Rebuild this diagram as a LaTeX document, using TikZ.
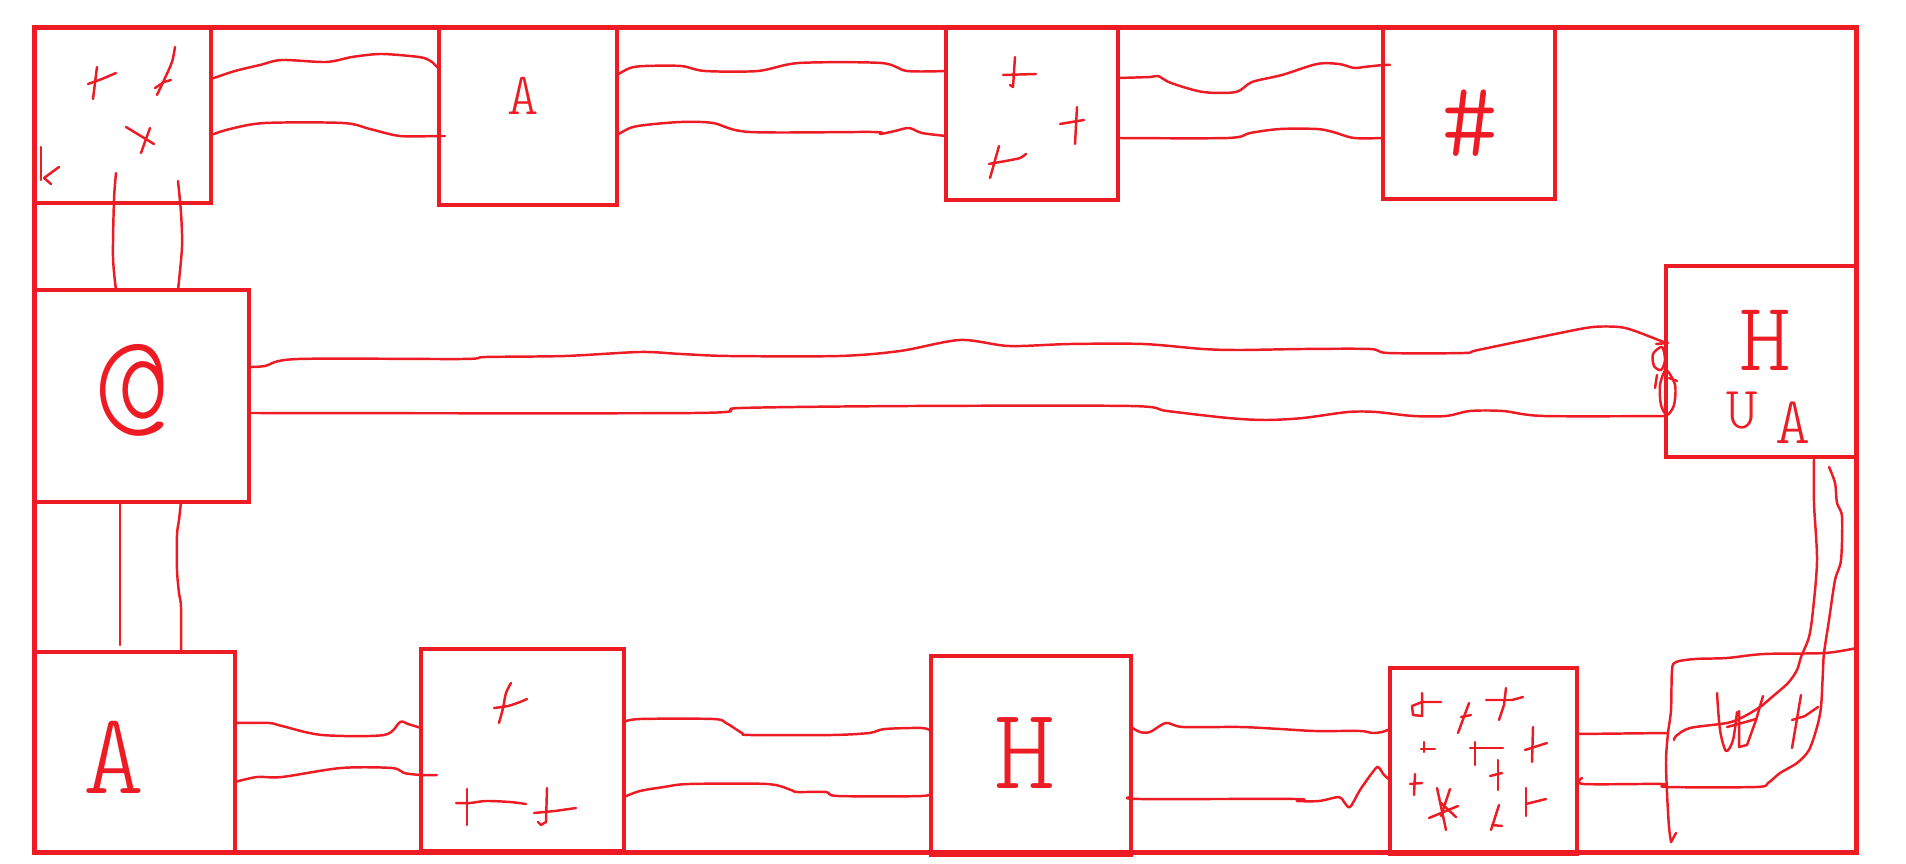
\documentclass[tikz,border=0pt]{standalone}
\usepackage{fontspec}
\newfontfamily\handfont{lmmonolt10-regular.otf}
\definecolor{pred}{RGB}{237,28,36}
\tikzset{
  boxn/.style={draw=pred,line width=1.3pt,inner sep=0pt,outer sep=0pt,line join=miter},
  wire/.style={draw=pred,line width=0.7pt,line cap=round,line join=round},
  glyph/.style={draw=pred,line width=0.7pt,line cap=round,line join=round},
  lbl/.style={text=pred,inner sep=0pt}
}
\begin{document}
\begin{tikzpicture}[x=0.01cm,y=-0.01cm]
\useasboundingbox (0,0) rectangle (1906,864);
% frame and boxes
\node[boxn,minimum width=18.21cm,minimum height=8.24cm] (frame) at (945.5,440) {};
\node[boxn,minimum width=1.76cm,minimum height=1.75cm] (b1) at (123,115.5) {};
\node[boxn,minimum width=1.78cm,minimum height=1.78cm] (b2) at (528,116) {};
\node[boxn,minimum width=1.72cm,minimum height=1.72cm] (b3) at (1032,114) {};
\node[boxn,minimum width=1.72cm,minimum height=1.71cm] (b4) at (1469,113.5) {};
\node[boxn,minimum width=2.14cm,minimum height=2.12cm] (g) at (142,396) {};
\node[boxn,minimum width=1.90cm,minimum height=1.91cm] (h) at (1761,361.5) {};
\node[boxn,minimum width=2.00cm,minimum height=2.00cm] (a2) at (135,752) {};
\node[boxn,minimum width=2.03cm,minimum height=2.02cm] (f) at (522.5,750) {};
\node[boxn,minimum width=2.00cm,minimum height=1.99cm] (h2) at (1031,755.5) {};
\node[boxn,minimum width=1.87cm,minimum height=1.86cm] (m) at (1483.5,761) {};

% labels
\node[lbl,font=\handfont\fontsize{17}{17}\selectfont] (tA1) at (523,96) {A};
\node[lbl,font=\handfont\fontsize{31}{31}\selectfont] (tHash) at (1470,123) {\#};
\node[lbl,font=\handfont\fontsize{42}{42}\selectfont] (tAt) at (132,390) {@};
\node[lbl,font=\handfont\fontsize{33}{33}\selectfont] (tA2) at (114,757) {A};
\node[lbl,font=\handfont\fontsize{28}{28}\selectfont] (tH) at (1765,340) {H};
\node[lbl,font=\handfont\fontsize{17}{17}\selectfont] (tU) at (1742,411) {U};
\node[lbl,font=\handfont\fontsize{19}{19}\selectfont] (tA3) at (1793,423) {A};
\node[lbl,font=\handfont\fontsize{33}{33}\selectfont] (tH2) at (1025,753) {H};

% top row connectors
\draw[wire] plot[smooth] coordinates {(b1.east |- 0,79) (235,71) (260,65) (282,60) (326,62) (352,57) (380,54) (410,56) (424,58) (432,62) (b2.west |- 0,69)};
\draw[wire] plot[smooth] coordinates {(b1.east |- 0,135) (230,129) (265,123) (343,123) (370,129) (400,136) (b2.west |- 0,136) (445,136)};
\draw[wire] plot[smooth] coordinates {(b2.east |- 0,75) (630,68) (645,66) (681,66) (705,71) (758,71) (799,63) (881,63) (907,71) (b3.west |- 0,71)};
\draw[wire] plot[smooth] coordinates {(b2.east |- 0,135) (630,128) (645,125) (681,122) (713,123) (750,132) (873,132) (880,134) (895,131) (909,128) (922,133) (b3.west |- 0,136)};
\draw[wire] plot[smooth] coordinates {(b3.east |- 0,78) (1150,77) (1158,76) (1171,83) (1203,92) (1236,92) (1252,82) (1282,75) (1317,64) (1339,64) (1354,68) (1364,67) (b4.west |- 0,65) (1390,65)};
\draw[wire] plot[smooth] coordinates {(b3.east |- 0,138) (1228,138) (1250,133) (1280,129) (1317,129) (1333,132) (1354,138) (b4.west |- 0,138)};

% left column connectors
\draw[wire] plot[smooth] coordinates {(116,173) (114,200) (113,257) (g.north -| 116,0)};
\draw[wire] plot[smooth] coordinates {(178,181) (181,213) (182,247) (g.north -| 178,0)};
\draw[wire] (g.south -| 120,0) -- (120,645);
\draw[wire] plot[smooth] coordinates {(g.south -| 181,0) (179,520) (177,535) (177,570) (179,593) (181,607) (a2.north -| 181,0)};

% long connectors G -> H
\draw[wire] plot[smooth] coordinates {(g.east |- 0,367) (265,366) (298,359) (462,359) (486,357) (565,356) (640,352) (681,354) (729,356) (839,356) (900,351) (960,340) (1009,346) (1070,344) (1143,344) (1203,349) (1240,350) (1303,349) (1370,349) (1388,353) (1464,353) (1478,350) (1560,333) (1593,327) (1619,327) (1635,331) (h.west |- 0,343)};
\draw[wire] plot[smooth] coordinates {(g.east |- 0,413) (693,413) (741,408) (912,406) (1130,406) (1167,411) (1228,418) (1266,420) (1303,418) (1348,412) (1376,412) (1413,416) (1446,416) (1470,411) (1503,411) (1544,416) (h.west |- 0,416)};
% scribble at H
\draw[glyph] (1656,344) -- (1668,343);
\draw[glyph] plot[smooth cycle] coordinates {(1662,347) (1653,354) (1654,366) (1661,370) (1665,360)};
\draw[glyph] plot[smooth cycle] coordinates {(1666,370) (1660,385) (1661,405) (1667,415) (1674,405) (1675,385)};
\draw[glyph] (1657,375) -- (1655,388);
\draw[glyph] (1669,378) -- (1677,381);

% bottom row connectors
\draw[wire] plot[smooth] coordinates {(a2.east |- 0,723) (269,723) (282,726) (322,735) (384,735) (400,722) (408,724) (f.west |- 0,728)};
\draw[wire] plot[smooth] coordinates {(a2.east |- 0,782) (257,777) (282,777) (341,768) (392,768) (404,773) (f.west |- 0,775) (437,775)};
\draw[wire] plot[smooth] coordinates {(f.east |- 0,722) (640,719) (713,719) (726,723) (742,733) (750,735) (832,735) (869,733) (885,729) (922,728) (h2.west |- 0,731)};
\draw[wire] plot[smooth] coordinates {(f.east |- 0,797) (640,791) (664,787) (689,784) (767,784) (791,790) (797,792) (826,792) (838,796) (922,796) (h2.west |- 0,792)};
\draw[wire] plot[smooth] coordinates {(h2.east |- 0,727) (1140,732) (1150,732) (1166,723) (1183,727) (1240,727) (1280,729) (1315,731) (1360,731) (1372,733) (1382,732) (m.west |- 0,729)};
\draw[wire] plot[smooth] coordinates {(h2.east |- 0,797) (1140,799) (1295,799) (1297,801) (1319,801) (1339,797) (1344,802) (1350,807) (1360,790) (1372,773) (1378,767) (1384,775) (m.west |- 0,780)};

% right side connectors
\draw[wire] (m.east |- 0,734) -- (1668,733);
\draw[wire] plot[smooth] coordinates {(h.south -| 1814,0) (1814,503) (1817,560) (1813,610) (1809,637) (1801,657) (1797,670) (1788,683) (1772,697) (1760,707) (1743,717) (1727,723) (1690,728) (1676,736) (1674,740)};
\draw[wire] plot[smooth] coordinates {(1829,467) (1835,483) (1837,503) (1842,517) (1841,560) (1835,580) (1829,620) (1824,653) (1823,670) (1821,707) (1817,727) (1809,750) (1797,763) (1780,773) (1768,783) (1756,787) (1666,787) (1662,784) (1584,784) (1582,778)};
\draw[wire] plot[smooth] coordinates {(frame.east |- 0,648) (1825,653) (1764,654) (1727,658) (1695,659) (1676,662) (1672,670) (1671,710) (1668,733) (1666,760) (1667,793) (1669,827) (1671,842)};
\draw[glyph] (1671,842) -- (1676,833);

% hand marks in box b1
\draw[glyph] (97,67) -- (95,83) -- (93,99);
\draw[glyph] (88,84) -- (102,79) -- (116,73);
\draw[glyph] plot[smooth] coordinates {(175,47) (172,62) (165,78) (157,95)};
\draw[glyph] (155,88) -- (164,82) -- (171,80);
\draw[glyph] (126,127) -- (154,144);
\draw[glyph] (150,128) -- (141,153);
\draw[glyph] (41,147) -- (41,180);
\draw[glyph] (59,167) -- (44,178) -- (51,184);

% hand marks in box b3
\draw[glyph] (1003,75) -- (1036,74);
\draw[glyph] (1015,57) -- (1013,87) -- (1010,85);
\draw[glyph] (1077,107) -- (1075,144);
\draw[glyph] (1060,124) -- (1084,120);
\draw[glyph] (999,146) -- (990,178);
\draw[glyph] plot[smooth] coordinates {(989,164) (1000,162) (1011,160) (1020,158) (1026,154)};

% hand marks in box f
\draw[glyph] plot[smooth] coordinates {(511,683) (506,693) (503,708) (499,723)};
\draw[glyph] plot[smooth] coordinates {(494,708) (508,706) (520,702) (527,699)};
\draw[glyph] (467,789) -- (467,825);
\draw[glyph] plot[smooth] coordinates {(456,803) (470,803) (486,801) (510,802) (526,804)};
\draw[glyph] (547,788) -- (546,822) -- (541,825) -- (538,822);
\draw[glyph] (534,813) -- (555,811) -- (576,808);

% hand marks in box m
\draw[glyph] (1422,693) -- (1422,716) -- (1413,715) -- (1412,706) -- (1422,702) -- (1441,702);
\draw[glyph] (1469,703) -- (1458,733);
\draw[glyph] (1461,717) -- (1471,715);
\draw[glyph] (1486,700) -- (1512,700) -- (1523,697);
\draw[glyph] (1506,688) -- (1504,705) -- (1499,720);
\draw[glyph] (1421,749) -- (1435,749);
\draw[glyph] (1424,742) -- (1424,752);
\draw[glyph] (1470,748) -- (1503,748);
\draw[glyph] (1475,742) -- (1475,765);
\draw[glyph] (1533,727) -- (1532,762);
\draw[glyph] (1525,750) -- (1547,743);
\draw[glyph] (1498,760) -- (1498,790);
\draw[glyph] (1490,776) -- (1502,773);
\draw[glyph] (1415,774) -- (1414,795);
\draw[glyph] (1410,784) -- (1422,783);
\draw[glyph] (1437,788) -- (1446,830);
\draw[glyph] (1450,789) -- (1441,816);
\draw[glyph] (1429,818) -- (1458,806);
\draw[glyph] (1441,803) -- (1456,817);
\draw[glyph] (1499,805) -- (1491,830);
\draw[glyph] (1492,825) -- (1502,826);
\draw[glyph] (1526,788) -- (1526,816);
\draw[glyph] (1526,804) -- (1546,799);

% hand marks at bottom right
\draw[glyph] plot[smooth] coordinates {(1717,693) (1720,730) (1726,751) (1733,740) (1737,712)};
\draw[glyph] (1739,711) -- (1739,747) -- (1747,745) -- (1756,720) -- (1763,696);
\draw[glyph] (1727,727) -- (1742,723) -- (1756,719);
\draw[glyph] (1801,695) -- (1792,748);
\draw[glyph] (1792,720) -- (1805,716) -- (1818,707);
\end{tikzpicture}
\end{document}
